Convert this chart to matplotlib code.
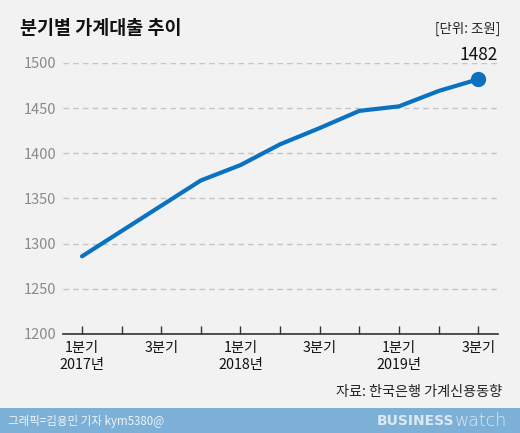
import numpy as np
import matplotlib
matplotlib.use('Agg')
import matplotlib.pyplot as plt
from matplotlib.patches import Rectangle

plt.rcParams['font.family'] = ['Noto Sans CJK KR', 'DejaVu Sans']

# quarterly household loans, 2017 Q1 .. 2019 Q3 (trillion won)
quarters = list(range(11))
loans = [1286, 1314, 1342, 1370, 1387, 1410, 1428, 1447, 1452, 1469, 1482]
tick_pos = [0, 2, 4, 6, 8, 10]
tick_labels = ['1분기\n2017년', '3분기', '1분기\n2018년', '3분기', '1분기\n2019년', '3분기']
y_ticks = [1200, 1250, 1300, 1350, 1400, 1450, 1500]

bg = '#f2f2f2'
blue = '#0a72c0'

fig = plt.figure(figsize=(5.2, 4.33), dpi=100, facecolor=bg)
ax = fig.add_axes([63/520, 99/433, 435/520, 271/433], facecolor=bg)

ax.plot(quarters, loans, color=blue, lw=3.0, solid_capstyle='round', zorder=3)
ax.plot(quarters[-1], loans[-1], 'o', color=blue, ms=10, zorder=4, clip_on=False)
ax.annotate(f'{loans[-1]}', (quarters[-1], loans[-1]), xytext=(0, 11),
            textcoords='offset points', ha='center', va='bottom',
            fontsize=12.5, color='#111111', fontweight='medium')

ax.set_xlim(-0.48, 10.5)
ax.set_ylim(1200, 1500)
ax.set_yticks(y_ticks)
for v in y_ticks[1:]:
    ax.axhline(v, color='#c4c4c4', lw=1, ls=(0, (4, 3)), zorder=1)

for s in ['top', 'right', 'left']:
    ax.spines[s].set_visible(False)
ax.spines['bottom'].set_color('#333333')
ax.spines['bottom'].set_linewidth(1.2)

ax.set_xticks(quarters, minor=True)
ax.set_xticks(tick_pos)
ax.set_xticklabels(tick_labels, fontsize=10.3, color='#111111', linespacing=1.25)
ax.tick_params(axis='x', which='both', direction='in', length=6, width=1,
               color='#333333', pad=5)
ax.tick_params(axis='y', length=0, labelsize=10.5, labelcolor='#8a8a8a', pad=5)

fig.text(20/520, 1 - 28/433, '분기별 가계대출 추이', fontsize=13.3, fontweight='bold',
         color='#111111', va='center', ha='left')
fig.text(500/520, 1 - 29/433, '[단위: 조원]', fontsize=9.7, color='#222222',
         va='center', ha='right')
fig.text(502/520, 1 - 392/433, '자료: 한국은행 가계신용동향', fontsize=10.2,
         color='#222222', va='center', ha='right')

# bottom banner
fig.patches.append(Rectangle((0, 0), 1, 25/433, transform=fig.transFigure,
                             facecolor='#7db0d7', edgecolor='none', zorder=0))
fig.text(8/520, 12/433, '그래픽=김용민 기자 kym5380@', fontsize=8.3, color='#eef5fb',
         va='center', ha='left')
fig.text(454/520, 12/433, 'BUSINESS', fontsize=10, fontweight='heavy', color='#dbe9f4',
         va='center', ha='right', family=['DejaVu Sans'])
fig.text(455/520, 12/433, 'watch', fontsize=12.5, fontweight='light', color='#dbe9f4',
         va='center', ha='left', family=['DejaVu Sans'])

fig.savefig('out.png', dpi=100, facecolor=bg)
